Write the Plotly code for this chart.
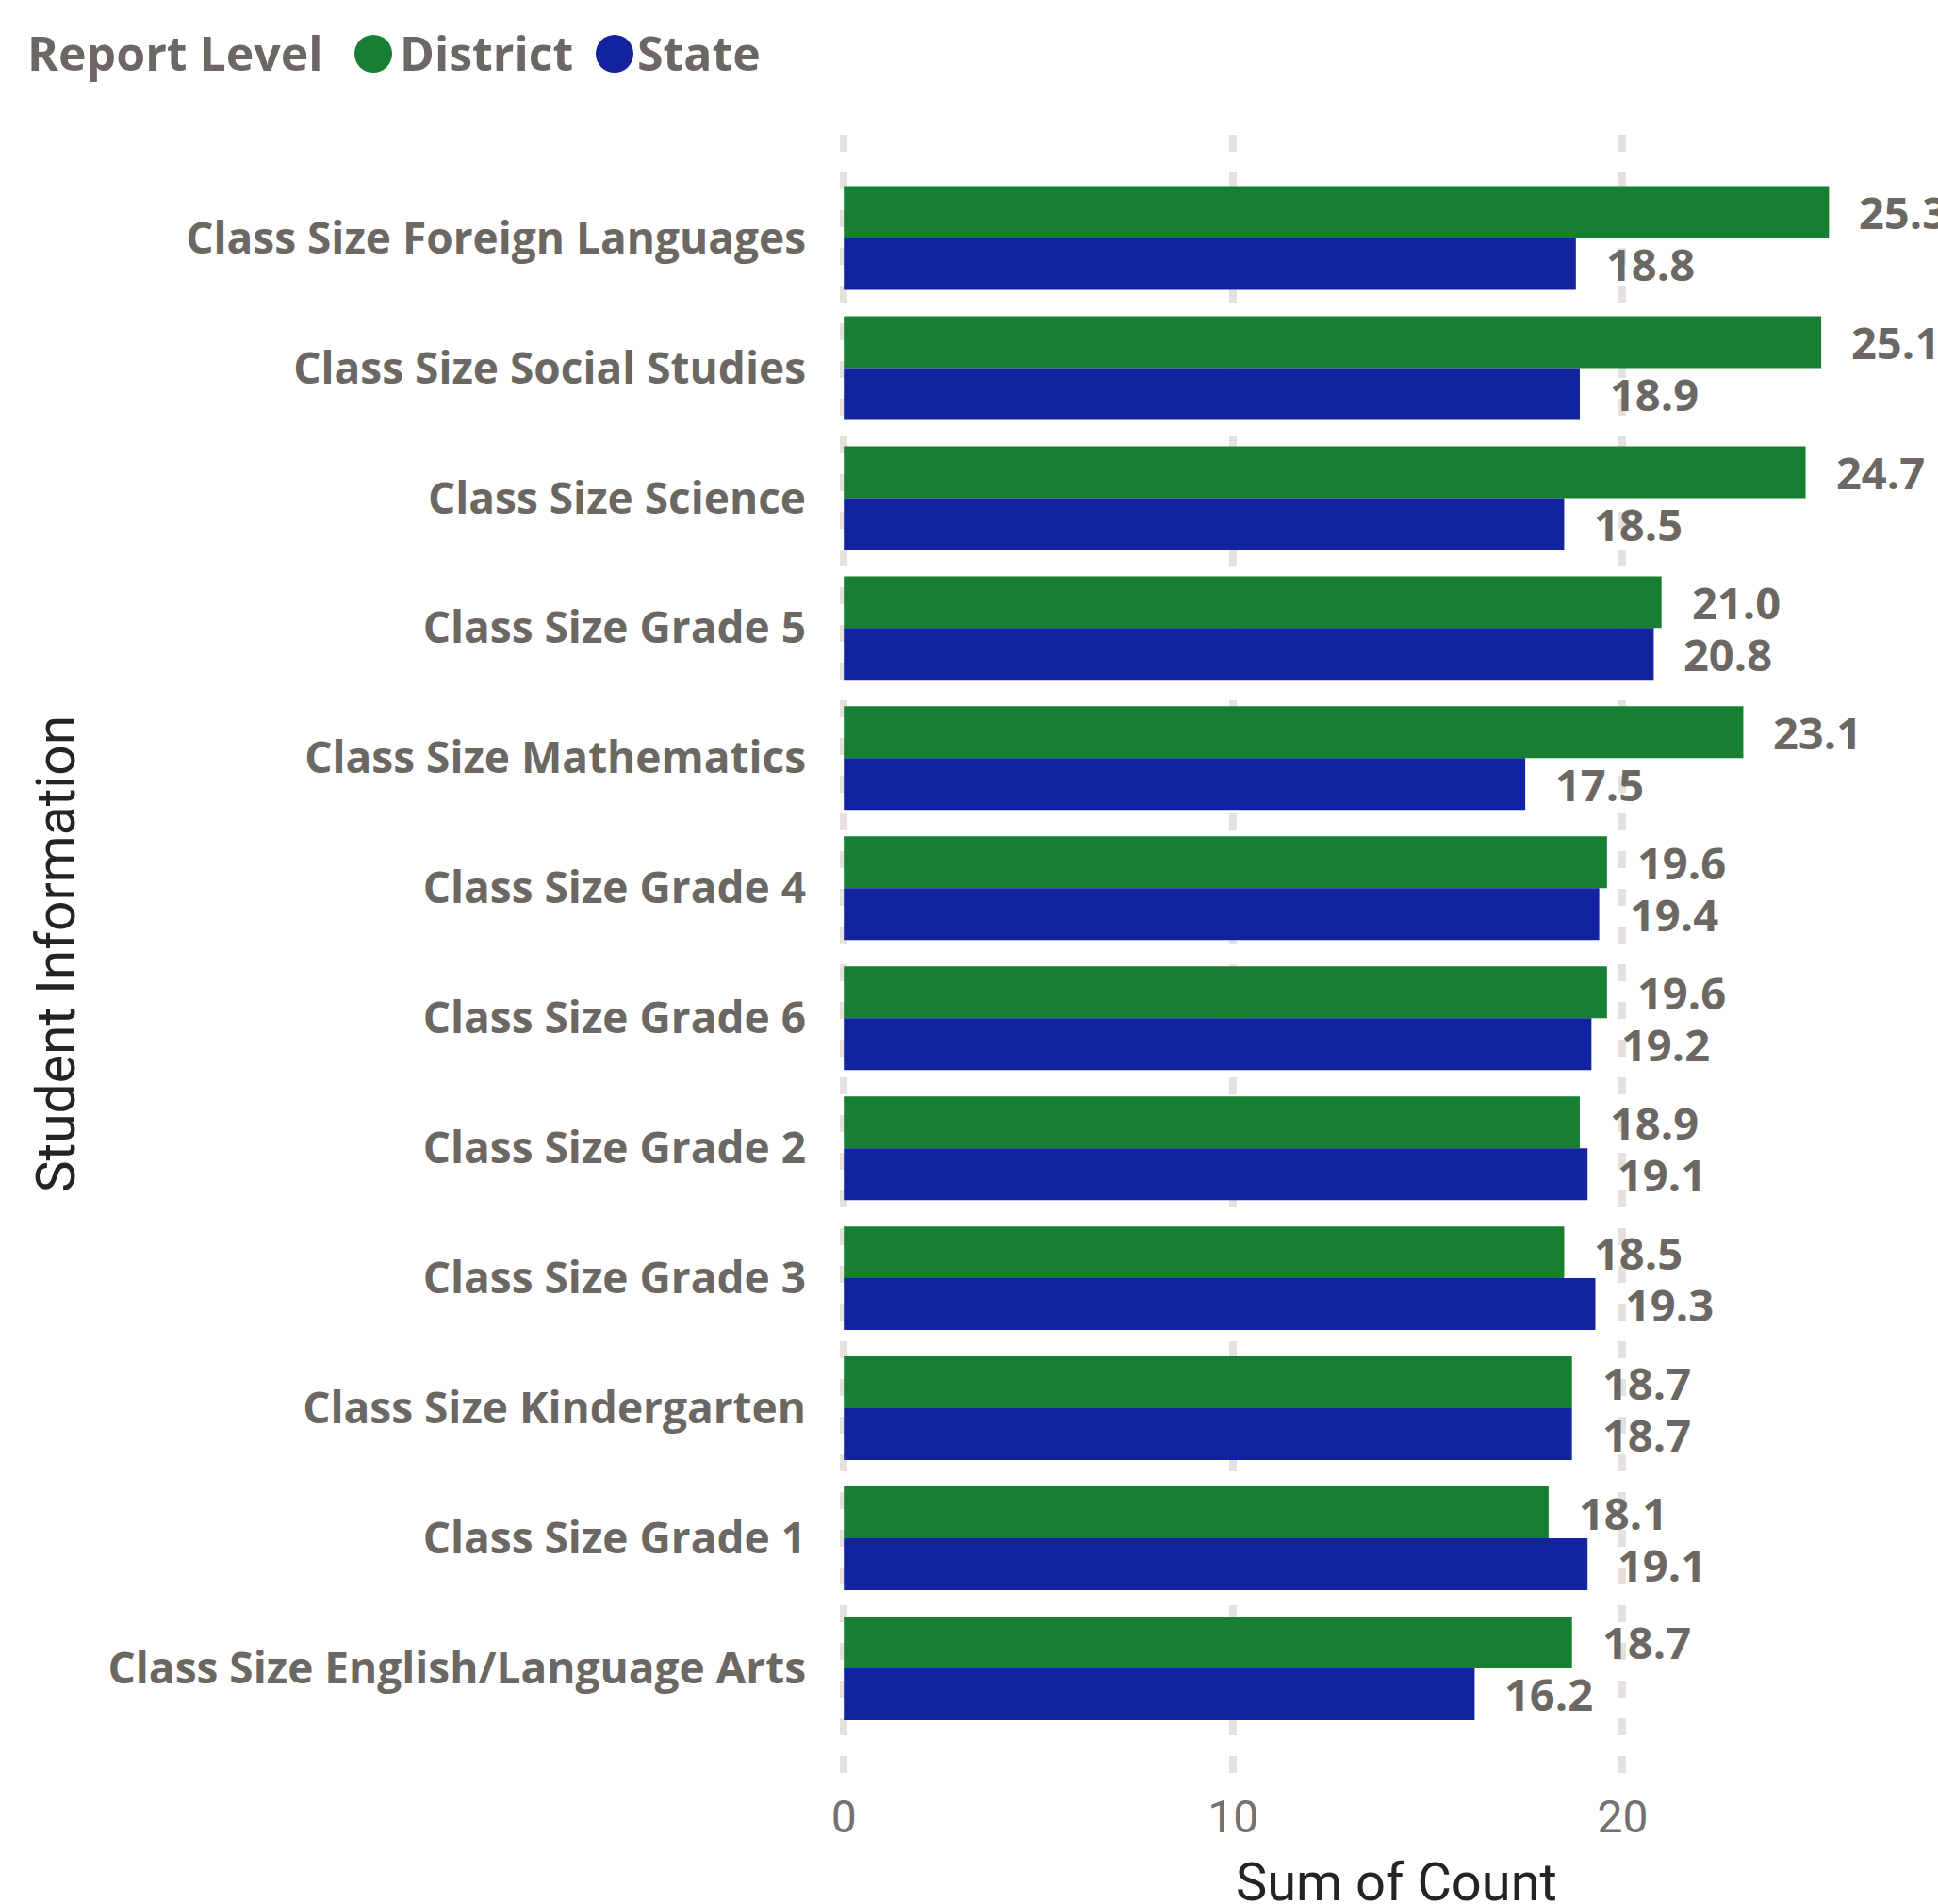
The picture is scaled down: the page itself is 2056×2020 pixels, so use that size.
import plotly.graph_objects as go

# Class size by subject / grade, district vs. state
categories = [
    "Class Size Foreign Languages",
    "Class Size Social Studies",
    "Class Size Science",
    "Class Size Grade 5",
    "Class Size Mathematics",
    "Class Size Grade 4",
    "Class Size Grade 6",
    "Class Size Grade 2",
    "Class Size Grade 3",
    "Class Size Kindergarten",
    "Class Size Grade 1",
    "Class Size English/Language Arts",
]
district = [25.3, 25.1, 24.7, 21.0, 23.1, 19.6, 19.6, 18.9, 18.5, 18.7, 18.1, 18.7]
state = [18.8, 18.9, 18.5, 20.8, 17.5, 19.4, 19.2, 19.1, 19.3, 18.7, 19.1, 16.2]
x_ticks = [0, 10, 20]

W, H = 2056, 2020
M_L, M_R, M_T, M_B = 889, 0, 143, 139
X_MIN, X_MAX = -0.15, 28.1

GREEN = "#167F31"
BLUE = "#11239E"
GRAY = "#6B6763"
DARK = "#252423"
BOLD_FONT = "Open Sans"
AXIS_FONT = "Roboto"


def paper_x(px):
    return (px - M_L) / (W - M_L - M_R)


def paper_y(py):
    return (H - M_B - py) / (H - M_T - M_B)


fig = go.Figure()
fig.add_trace(go.Bar(name="District", y=categories, x=district, orientation="h",
                     marker=dict(color=GREEN, line=dict(width=0)), showlegend=False))
fig.add_trace(go.Bar(name="State", y=categories, x=state, orientation="h",
                     marker=dict(color=BLUE, line=dict(width=0)), showlegend=False))

# value labels just past the end of each bar
label_font = dict(family=BOLD_FONT, size=47, color=GRAY, weight="bold")
for series, shift in ((district, 27.5), (state, -27.5)):
    for cat, val in zip(categories, series):
        fig.add_annotation(x=val, y=cat, xref="x", yref="y", text=f"{val:.1f}",
                           showarrow=False, xanchor="left", yanchor="middle",
                           xshift=30, yshift=shift, font=label_font)

# legend row: title, coloured dots, series names
legend_font = dict(family=BOLD_FONT, size=50, color=GRAY, weight="bold")
fig.add_annotation(x=paper_x(27), y=paper_y(56), xref="paper", yref="paper",
                   text="Report Level", showarrow=False, xanchor="left",
                   yanchor="middle", font=legend_font)
for cx, name, color, tx in ((396, "District", GREEN, 422), (652, "State", BLUE, 674)):
    fig.add_shape(type="circle", xref="paper", yref="paper",
                  xsizemode="pixel", ysizemode="pixel",
                  xanchor=paper_x(cx), yanchor=paper_y(57),
                  x0=-20, x1=20, y0=-20, y1=20,
                  fillcolor=color, line=dict(width=0))
    fig.add_annotation(x=paper_x(tx), y=paper_y(56), xref="paper", yref="paper",
                       text=name, showarrow=False, xanchor="left",
                       yanchor="middle", font=legend_font)

# x-axis title sits below the tick labels, close to the bottom edge
fig.add_annotation(x=paper_x(1481), y=paper_y(1997), xref="paper", yref="paper",
                   text="Sum of Count", showarrow=False, xanchor="center",
                   yanchor="middle", font=dict(family=AXIS_FONT, size=56, color=DARK))

fig.update_layout(
    width=W, height=H,
    margin=dict(l=M_L, r=M_R, t=M_T, b=M_B, autoexpand=False),
    paper_bgcolor="white", plot_bgcolor="white",
    barmode="group", bargap=0.203, bargroupgap=0,
    showlegend=False,
    xaxis=dict(
        range=[X_MIN, X_MAX], tickvals=x_ticks, ticktext=[str(t) for t in x_ticks],
        showgrid=True, gridcolor="#E5E1DC", gridwidth=8, griddash="18px,22px",
        zeroline=False, showline=False, ticks="",
        ticklabelstandoff=14,
        tickfont=dict(family=AXIS_FONT, size=48, color="#757170"),
        automargin=False,
    ),
    yaxis=dict(
        type="category", categoryorder="array", categoryarray=categories,
        range=[11.805, -0.794],
        showgrid=False, zeroline=False, showline=False, ticks="",
        ticklabelstandoff=33,
        tickfont=dict(family=BOLD_FONT, size=46, color=GRAY, weight="bold"),
        title=dict(text="Student Information", standoff=16,
                   font=dict(family=AXIS_FONT, size=57, color=DARK)),
        automargin=False,
    ),
)

fig.write_html("out.html")
